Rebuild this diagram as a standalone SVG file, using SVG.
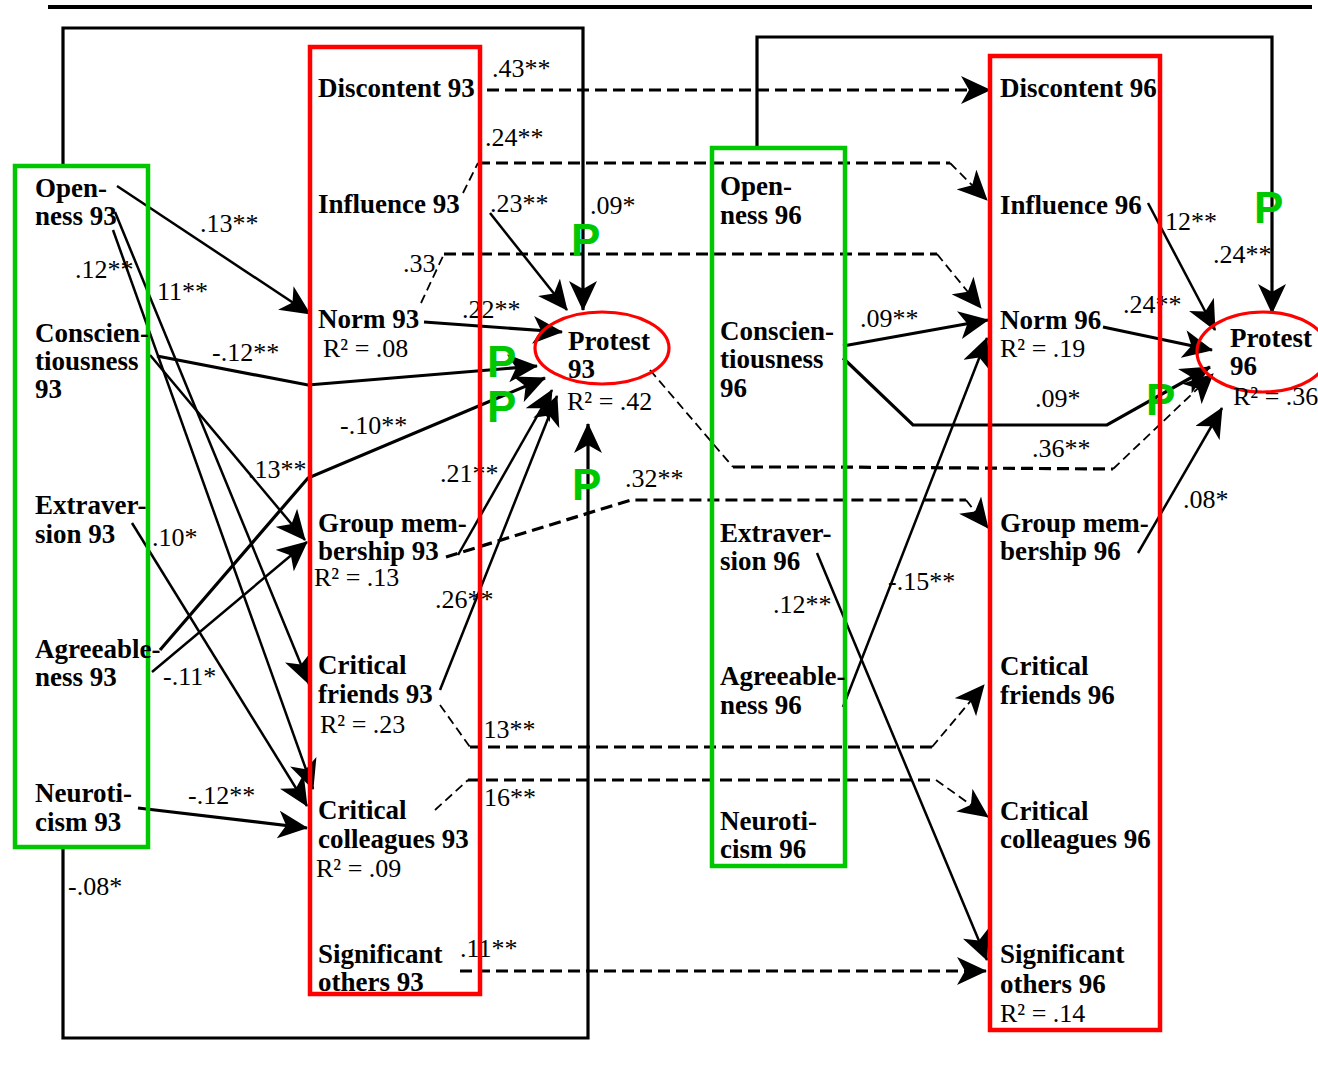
<svg xmlns="http://www.w3.org/2000/svg" width="1318" height="1075" viewBox="0 0 1318 1075">
<defs>
<marker id="ah" markerUnits="userSpaceOnUse" viewBox="0 0 30 28" refX="29" refY="14" markerWidth="30" markerHeight="28" orient="auto">
<path d="M0,0 L30,14 L0,28 L8,14 z" fill="#000"/>
</marker>
<style>
.n{font-family:"Liberation Serif","Times New Roman",serif;font-weight:bold;font-size:27px;fill:#000}
.l{font-family:"Liberation Serif","Times New Roman",serif;font-size:26px;fill:#000}
.p{font-family:"Liberation Sans",Arial,sans-serif;font-weight:bold;font-size:44px;fill:#00c800}
.s{fill:none;stroke:#000;stroke-width:2.5}
.sw{fill:none;stroke:#000;stroke-width:3.2}
.a{marker-end:url(#ah)}
.dh{fill:none;stroke:#000;stroke-width:3.2;stroke-dasharray:12 6}
.dt{fill:none;stroke:#000;stroke-width:1.8;stroke-dasharray:9 5}
.g{fill:none;stroke:#00c800;stroke-width:4.5}
.r{fill:none;stroke:#ff0000;stroke-width:4.5}
.e{fill:none;stroke:#ff0000;stroke-width:3.2}
</style>
</defs>
<rect width="1318" height="1075" fill="#fff"/>
<line x1="48" y1="7" x2="1312" y2="7" stroke="#000" stroke-width="4"/>

<g id="connectors">
<path class="sw a" d="M63,166 L63,28 L583,28 L583,310"/>
<path class="sw a" d="M63,848 L63,1038 L588,1038 L588,424"/>
<path class="sw a" d="M757,150 L757,37 L1272,37 L1272,313"/>
<path class="s a" d="M117,186 L310,314"/>
<path class="s a" d="M115,212 L309,684"/>
<path class="s a" d="M113,230 L313,789"/>
<path class="s a" d="M150,355 L305,540"/>
<path class="sw a" d="M157,356 L308,385 L537,366"/>
<path class="s a" d="M132,523 L307,806"/>
<path class="sw a" d="M160,650 L308,478 L545,378"/>
<path class="s a" d="M152,672 L307,542"/>
<path class="sw a" d="M138,808 L307,828"/>
<path class="sw a" d="M424,322 L562,332"/>
<path class="s a" d="M490,213 L567,310"/>
<path class="s a" d="M458,555 L552,390"/>
<path class="s a" d="M440,690 L557,396"/>
<path class="sw a" d="M843,346 L988,320"/>
<path class="sw a" d="M843,358 L913,425 L1107,425 L1210,367"/>
<path class="s a" d="M843,707 L987,338"/>
<path class="s a" d="M817,553 L987,960"/>
<path class="sw a" d="M1103,327 L1212,350"/>
<path class="s a" d="M1148,203 L1215,330"/>
<path class="s a" d="M1138,553 L1222,408"/>

<path class="dh a" d="M487,90 L990,90"/>
<path class="dt" d="M463,193 L478,163"/><path class="dh" d="M478,163 L950,163"/><path class="dt a" d="M950,163 L987,200"/>
<path class="dt" d="M421,303 L444,254"/><path class="dh" d="M444,254 L937,254"/><path class="dt a" d="M937,254 L981,308"/>
<path class="dt" d="M650,370 L733,467"/><path class="dh" d="M733,467 L829,467 L1113,469"/><path class="dt a" d="M1113,469 L1213,374"/>
<path class="dh" d="M446,557 L631,500 L966,500"/><path class="dt a" d="M966,500 L988,528"/>
<path class="dt" d="M440,705 L470,747"/><path class="dh" d="M470,747 L932,747"/><path class="dt a" d="M932,747 L984,685"/>
<path class="dt" d="M435,810 L468,780"/><path class="dh" d="M468,780 L936,780"/><path class="dt a" d="M936,780 L988,817"/>
<path class="dh a" d="M460,971 L986,971"/>
</g>

<g id="labels">
<text class="l" x="492" y="77">.43**</text>
<text class="l" x="485" y="146">.24**</text>
<text class="l" x="490" y="212">.23**</text>
<text class="l" x="590" y="214">.09*</text>
<text class="l" x="403" y="272">.33</text>
<text class="l" x="462" y="318">.22**</text>
<text class="l" x="200" y="232">.13**</text>
<text class="l" x="75" y="278">.12**</text>
<text class="l" x="157" y="300">11**</text>
<text class="l" x="212" y="361">-.12**</text>
<text class="l" x="340" y="434">-.10**</text>
<text class="l" x="248" y="478">.13**</text>
<text class="l" x="440" y="482">.21**</text>
<text class="l" x="152" y="546">.10*</text>
<text class="l" x="163" y="685">-.11*</text>
<text class="l" x="435" y="608">.26**</text>
<text class="l" x="477" y="738">.13**</text>
<text class="l" x="484" y="806">16**</text>
<text class="l" x="188" y="804">-.12**</text>
<text class="l" x="68" y="895">-.08*</text>
<text class="l" x="460" y="957">.11**</text>
<text class="l" x="625" y="487">.32**</text>
<text class="l" x="1032" y="457">.36**</text>
<text class="l" x="860" y="327">.09**</text>
<text class="l" x="1035" y="407">.09*</text>
<text class="l" x="773" y="613">.12**</text>
<text class="l" x="888" y="590">-.15**</text>
<text class="l" x="1123" y="313">.24**</text>
<text class="l" x="1165" y="230">12**</text>
<text class="l" x="1213" y="263">.24**</text>
<text class="l" x="1183" y="508">.08*</text>
<text class="p" x="571" y="255">P</text>
<text class="p" x="487" y="377">P</text>
<text class="p" x="487" y="422">P</text>
<text class="p" x="572" y="500">P</text>
<text class="p" x="1146" y="415">P</text>
<text class="p" x="1254" y="223">P</text>
</g>

<g id="personality93-box"><rect class="g" x="15" y="166" width="133" height="681"/></g>
<g id="social93-box"><rect class="r" x="310" y="47" width="170" height="947"/></g>
<g id="personality96-box"><rect class="g" x="712" y="148" width="133" height="718"/></g>
<g id="social96-box"><rect class="r" x="990" y="56" width="170" height="974"/></g>

<g id="openness93"><text class="n" x="35" y="197">Open-</text><text class="n" x="35" y="225">ness 93</text></g>
<g id="conscientiousness93"><text class="n" x="35" y="342">Conscien-</text><text class="n" x="35" y="370">tiousness</text><text class="n" x="35" y="398">93</text></g>
<g id="extraversion93"><text class="n" x="35" y="514">Extraver-</text><text class="n" x="35" y="543">sion 93</text></g>
<g id="agreeableness93"><text class="n" x="35" y="658">Agreeable-</text><text class="n" x="35" y="686">ness 93</text></g>
<g id="neuroticism93"><text class="n" x="35" y="802">Neuroti-</text><text class="n" x="35" y="831">cism 93</text></g>

<g id="discontent93"><text class="n" x="318" y="97">Discontent 93</text></g>
<g id="influence93"><text class="n" x="318" y="213">Influence 93</text></g>
<g id="norm93"><text class="n" x="318" y="328">Norm 93</text><text class="l" x="323" y="357">R² = .08</text></g>
<g id="groupmembership93"><text class="n" x="318" y="532">Group mem-</text><text class="n" x="318" y="560">bership 93</text><text class="l" x="314" y="586">R² = .13</text></g>
<g id="criticalfriends93"><text class="n" x="318" y="674">Critical</text><text class="n" x="318" y="703">friends 93</text><text class="l" x="320" y="733">R² = .23</text></g>
<g id="criticalcolleagues93"><text class="n" x="318" y="819">Critical</text><text class="n" x="318" y="848">colleagues 93</text><text class="l" x="316" y="877">R² = .09</text></g>
<g id="significantothers93"><text class="n" x="318" y="963">Significant</text><text class="n" x="318" y="991">others 93</text></g>

<g id="protest93"><ellipse class="e" cx="602" cy="348" rx="67" ry="36"/><text class="n" x="568" y="350">Protest</text><text class="n" x="568" y="378">93</text><text class="l" x="567" y="410">R² = .42</text></g>

<g id="openness96"><text class="n" x="720" y="195">Open-</text><text class="n" x="720" y="224">ness 96</text></g>
<g id="conscientiousness96"><text class="n" x="720" y="340">Conscien-</text><text class="n" x="720" y="368">tiousness</text><text class="n" x="720" y="397">96</text></g>
<g id="extraversion96"><text class="n" x="720" y="542">Extraver-</text><text class="n" x="720" y="570">sion 96</text></g>
<g id="agreeableness96"><text class="n" x="720" y="685">Agreeable-</text><text class="n" x="720" y="714">ness 96</text></g>
<g id="neuroticism96"><text class="n" x="720" y="830">Neuroti-</text><text class="n" x="720" y="858">cism 96</text></g>

<g id="discontent96"><text class="n" x="1000" y="97">Discontent 96</text></g>
<g id="influence96"><text class="n" x="1000" y="214">Influence 96</text></g>
<g id="norm96"><text class="n" x="1000" y="329">Norm 96</text><text class="l" x="1000" y="357">R² = .19</text></g>
<g id="groupmembership96"><text class="n" x="1000" y="532">Group mem-</text><text class="n" x="1000" y="560">bership 96</text></g>
<g id="criticalfriends96"><text class="n" x="1000" y="675">Critical</text><text class="n" x="1000" y="704">friends 96</text></g>
<g id="criticalcolleagues96"><text class="n" x="1000" y="820">Critical</text><text class="n" x="1000" y="848">colleagues 96</text></g>
<g id="significantothers96"><text class="n" x="1000" y="963">Significant</text><text class="n" x="1000" y="993">others 96</text><text class="l" x="1000" y="1022">R² = .14</text></g>

<g id="protest96"><ellipse class="e" cx="1263" cy="352" rx="66" ry="40"/><text class="n" x="1230" y="347">Protest</text><text class="n" x="1230" y="375">96</text><text class="l" x="1233" y="405">R² = .36</text></g>
</svg>
